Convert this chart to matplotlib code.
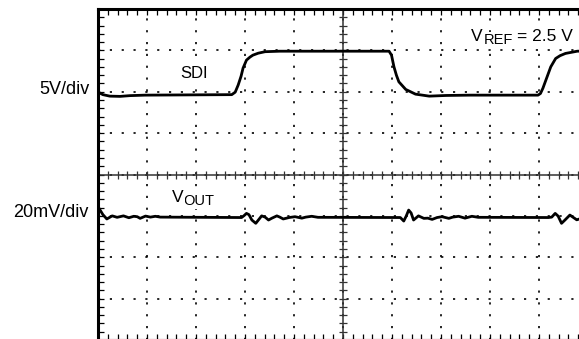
import matplotlib
matplotlib.use("Agg")
import matplotlib.pyplot as plt
import numpy as np

plt.rcParams['font.family'] = ['Liberation Sans', 'DejaVu Sans']

# screen: 10 x 8 divisions, SDI ground at 6 div (5 V/div), VOUT at 3 div (20 mV/div)
SDI_ZERO, SDI_SCALE = 6.0, 5.0
VOUT_ZERO, VOUT_SCALE = 3.0, 20.0

# SDI trace: time (div), volts
sdi_t = [0, 0.10, 0.24, 0.45, 0.65, 0.96, 2.73, 2.80, 2.86, 2.92, 2.96, 3.03, 3.10,
         3.16, 3.27, 3.41, 3.71, 5.94, 5.99, 6.04, 6.09, 6.14, 6.28, 6.48, 6.76, 7.10,
         7.59, 8.98, 9.03, 9.08, 9.14, 9.24, 9.34, 9.43, 9.54, 9.78, 10.0]
sdi_v = [-0.05, -0.35, -0.53, -0.56, -0.47, -0.41, -0.35, -0.05, 0.80, 1.88, 2.85, 3.82, 4.18,
         4.42, 4.66, 4.84, 4.90, 4.90, 4.42, 3.01, 2.00, 1.20, 0.28, -0.29, -0.53, -0.45,
         -0.41, -0.41, -0.21, 0.43, 1.40, 3.01, 4.02, 4.36, 4.63, 4.90, 4.93]

# VOUT trace: time (div), mV
vout_t = [0.03, 0.10, 0.18, 0.29, 0.39, 0.52, 0.63, 0.73, 0.80, 0.86, 0.97, 1.07, 1.17, 1.27,
          2.93, 2.98, 3.03, 3.08, 3.14, 3.22, 3.28, 3.34, 3.41, 3.48, 3.55, 3.65, 3.71, 3.78,
          3.90, 4.02, 4.16, 4.24, 4.36, 4.49,
          6.17, 6.24, 6.29, 6.34, 6.39, 6.44, 6.54, 6.65, 6.73, 6.82, 6.92, 7.02, 7.16, 7.24,
          7.36, 7.49, 7.63, 7.76,
          9.19, 9.26, 9.33, 9.39, 9.46, 9.53, 9.63, 9.77, 9.88, 10.0]
vout_mv = [3.3, 0.6, -1.5, 0.0, -0.7, 0.0, -0.9, -0.2, -0.4, -1.2, -0.1, -0.6, -0.2, -0.6,
           -0.8, 0.1, 1.2, 0.6, -2.0, -3.6, -1.8, 0.0, -0.6, -2.0, -1.1, 0.0, -0.6, -1.5,
           -0.8, -0.4, -1.1, -0.6, -0.2, -0.7,
           -0.8, -2.5, -0.1, 2.8, 1.4, -2.0, 0.0, -1.2, -1.1, -1.7, -0.8, -0.4, -1.2, -0.6,
           -0.2, -1.1, -0.2, -0.7,
           -0.8, -0.6, 1.2, -0.1, -3.6, -2.0, 0.4, -1.9, -1.1, -0.8]

fig = plt.figure(figsize=(5.79, 3.39), dpi=100)
ax = fig.add_axes([98/579, -1/339, 490/579, 331/339])
ax.set_xlim(0, 10)
ax.set_ylim(0, 8)

# graticule
ax.set_xticks(np.arange(0, 11, 1))
ax.set_yticks(np.arange(0, 9, 1))
ax.set_xticks(np.arange(0, 10.01, 0.2), minor=True)
ax.set_yticks(np.arange(0, 8.01, 0.2), minor=True)
ax.set_xticklabels([])
ax.set_yticklabels([])
ax.grid(which='major', color='black', lw=1.2, linestyle=(0, (1.3, 5.8)))
ax.tick_params(which='both', direction='in', top=True, bottom=True, left=True, right=False,
               length=4.5, width=0.9, color='black')
for s in ['top', 'left']:
    ax.spines[s].set_linewidth(2.2)
ax.spines['bottom'].set_linewidth(1.5)
ax.spines['right'].set_visible(False)

# center crosshair with its own ticks
ax.axvline(5, color='#333333', lw=1.1)
ax.axhline(4, color='#333333', lw=1.1)
ax.plot(np.arange(0, 10.01, 0.2), np.full(51, 4.0), ls='none', marker='|', ms=5.5,
        mew=0.9, color='#333333')
ax.plot(np.full(41, 5.0), np.arange(0, 8.01, 0.2), ls='none', marker='_', ms=5.5,
        mew=0.9, color='#333333')

# traces
ax.plot(sdi_t, SDI_ZERO + np.array(sdi_v) / SDI_SCALE, color='black', lw=2.0,
        solid_joinstyle='round')
ax.plot(vout_t, VOUT_ZERO + np.array(vout_mv) / VOUT_SCALE, color='black', lw=2.0,
        solid_joinstyle='round')

white = dict(facecolor='white', edgecolor='none', pad=1.0)


def sub_label(x, y, main, sub, size=12.5, subsize=10.5, drop=2.2):
    t = fig.text(x, y, main, ha='left', va='baseline', fontsize=size, bbox=white)
    ax.annotate(sub, xy=(1, 0), xycoords=t, xytext=(0.3, -drop),
                textcoords='offset points', ha='left', va='bottom', fontsize=subsize,
                bbox=white)


# labels
fig.text(90/579, 1 - 89.5/339, '5V/div', ha='right', va='center', fontsize=13)
fig.text(88/579, 1 - 212.7/339, '20mV/div', ha='right', va='center', fontsize=13)
fig.text(194/579, 1 - 73.5/339, 'SDI', ha='center', va='center', fontsize=12, bbox=white)
sub_label(171.7/579, 1 - 201.7/339, 'V', 'OUT')
sub_label(471.3/579, 1 - 41/339, 'V', 'REF')
fig.text(517/579, 1 - 41/339, '= 2.5 V', ha='left', va='baseline', fontsize=12.5,
         bbox=white)

fig.savefig('out.png', dpi=100)
